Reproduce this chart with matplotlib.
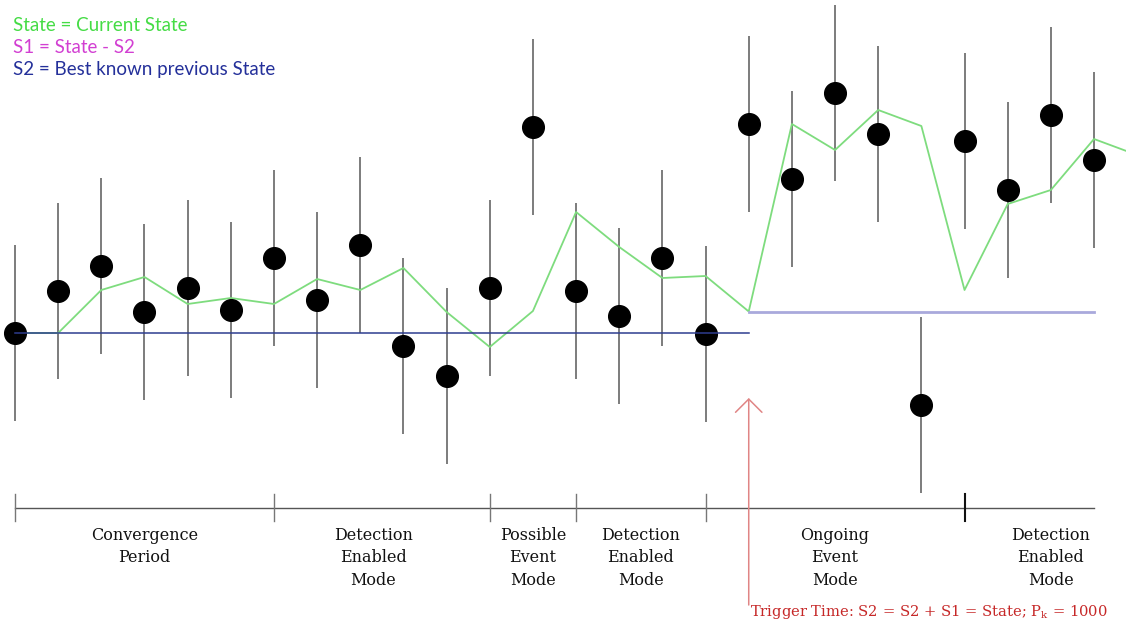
import matplotlib
matplotlib.use("Agg")
import matplotlib.pyplot as plt

# observation index (one per time step)
steps = list(range(26))

# observed values with their uncertainty (black dots + grey bars)
observed = [0.0, 4.2, 6.7, 2.1, 4.5, 2.3, 7.5, 3.3, 8.8, -1.3, -4.3, 4.5, 20.6,
            4.2, 1.7, 7.5, -0.1, 20.9, 15.4, 24.0, 19.9, -7.2, 19.2, 14.3, 21.8, 17.3]
observed_err = [8.8] * 26

# filtered state (green line), last value runs off the right edge
state_steps = list(range(27))
state = [0.0, 0.0, 4.3, 5.6, 2.9, 3.5, 2.9, 5.4, 4.3, 6.5, 2.1, -1.4, 2.2, 12.1,
         8.6, 5.5, 5.7, 2.15, 20.9, 18.3, 22.3, 20.7, 4.3, 12.9, 14.3, 19.4, 17.8]

# best known previous state before and after the trigger
trigger_step = 17
last_step = 25
s2_before = 0.0
s2_after = state[trigger_step]

# mode timeline
mode_bounds = [0, 6, 11, 13, 16, 22]
mode_labels = ["Convergence\nPeriod", "Detection\nEnabled\nMode", "Possible\nEvent\nMode",
               "Detection\nEnabled\nMode", "Ongoing\nEvent\nMode", "Detection\nEnabled\nMode"]
label_x = [3, 8.3, 12, 14.5, 19, 24]

SERIF = ["DejaVu Serif"]
plt.rcParams["mathtext.fontset"] = "dejavuserif"

fig = plt.figure(figsize=(11.26, 6.28), dpi=100)
ax = fig.add_axes([0, 0, 1, 1])
ax.set_xlim(-0.3475, 25.741)
ax.set_ylim(-29.5, 33.3)
ax.axis("off")

ax.errorbar(steps, observed, yerr=observed_err, fmt="none", ecolor="#666666",
            elinewidth=1.2, capsize=0, zorder=1)
ax.plot(state_steps, state, color="#7edc7e", lw=1.3, zorder=2)
ax.plot(steps, observed, "o", color="black", markersize=15.6, zorder=3)
ax.plot([0, trigger_step], [s2_before, s2_before], color="#2e3d8f", lw=1.1, zorder=4)
ax.plot([trigger_step, last_step], [s2_after, s2_after], color="#a9a9dc", lw=2, zorder=4)

# timeline
line_y = -17.5
ax.plot([mode_bounds[0], last_step], [line_y, line_y], color="#555555", lw=1)
for b in mode_bounds:
    strong = b == 22
    ax.plot([b, b], [line_y + 1.4, line_y - 1.3], color="#111111" if strong else "#777777",
            lw=1.5 if strong else 1)
for x, lab in zip(label_x, mode_labels):
    ax.text(x, -19.4, lab, ha="center", va="top", fontsize=11.5, family=SERIF,
            color="#111111", linespacing=1.42)

# trigger arrow
ax.annotate("", xy=(trigger_step, -6.5), xytext=(trigger_step, -27.2),
            arrowprops=dict(arrowstyle="->,head_length=0.95,head_width=0.95",
                            color="#e08585", lw=1.1, mutation_scale=10,
                            shrinkA=0, shrinkB=0))
ax.text(trigger_step + 0.04, -27.9, r"Trigger Time: S2 = S2 + S1 = State; P$_{\mathrm{k}}$ = 1000",
        ha="left", va="center", fontsize=10.6, family=SERIF, color="#c62828")

# key in the upper left
key = [("State = Current State", "#45dc45"),
       ("S1 = State - S2", "#d23fd2"),
       ("S2 = Best known previous State", "#24309a")]
for i, (txt, col) in enumerate(key):
    ax.text(0.0115, 0.960 - i * 0.035, txt, transform=ax.transAxes, ha="left", va="center",
            fontsize=13.5, family="Lato", color=col)

fig.savefig("out.png", dpi=100)
